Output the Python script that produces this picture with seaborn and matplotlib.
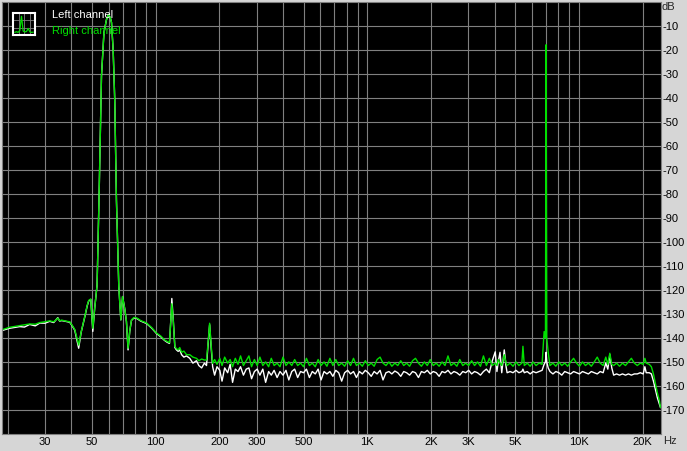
import numpy as np
import pandas as pd
import seaborn as sns
import matplotlib.pyplot as plt
from matplotlib.ticker import FixedLocator, FixedFormatter, NullLocator

# --- data (Hz, dB) ---
freq_hz = [
    18.7, 20.4, 22.8, 24.0, 25.4, 27.0, 28.4, 30.0, 31.6, 33.0, 34.5, 35.2, 36.0, 37.5, 39.3,
    40.5, 41.5, 43.3, 44.5, 46.3, 47.5, 48.3, 49.4, 50.5, 51.5, 52.9, 54.1, 55.5, 57.0, 58.6,
    60.0, 61.2, 61.9, 63.0, 64.1, 65.3, 67.0, 68.5, 69.8, 71.5, 72.8, 74.1, 75.5, 76.9, 79.0,
    81.8, 85.0, 90.6, 96.0, 101, 106, 110, 113.3, 116.3, 118.0, 119.3, 121.0, 123.3, 125.5, 127.8,
    130, 132.7, 136, 140, 145, 150, 156, 160, 165, 170, 174, 177, 180, 183, 186,
    190, 195, 201, 206, 212, 219, 225, 231, 238, 245, 252, 260, 268, 276, 284,
    293, 302, 311, 321, 331, 342, 352, 363, 375, 387, 400, 413, 426, 440, 454,
    469, 484, 500, 516, 533, 550, 568, 586, 605, 625, 645, 666, 688, 710, 733,
    757, 782, 808, 834, 861, 889, 918, 948, 979, 1011, 1044, 1078, 1113, 1150, 1187,
    1226, 1266, 1307, 1350, 1394, 1440, 1487, 1535, 1585, 1637, 1690, 1746, 1803, 1862, 1922,
    1985, 2050, 2117, 2186, 2257, 2331, 2407, 2486, 2567, 2651, 2737, 2827, 2919, 3014, 3113,
    3214, 3319, 3428, 3540, 3655, 3775, 3898, 4025, 4100, 4156, 4240, 4320, 4440, 4530, 4580,
    4730, 4884, 5043, 5207, 5377, 5440, 5520, 5700, 5885, 6077, 6275, 6480, 6700, 6850, 6950,
    7000, 7050, 7160, 7300, 7540, 7780, 8040, 8300, 8570, 8850, 9140, 9440, 9750, 10070, 10400,
    10740, 11090, 11450, 11820, 12210, 12610, 13020, 13400, 13700, 14000, 14300, 14600, 15070, 15560, 16070,
    16600, 17140, 17700, 18280, 18880, 19500, 20130, 20500, 20800, 21500, 22000, 22500, 23000, 23500, 24000,
    24300,
]

right_db = [
    -136.7, -135.6, -134.9, -134.6, -134.2, -134.3, -133.6, -133.3, -132.9, -133.3, -131.8, -132.9, -132.6, -133.0, -133.3,
    -135.0, -136.5, -143.0, -137.5, -131.0, -126.5, -124.4, -123.8, -136.0, -128.0, -118.0, -79.6, -31.0, -13.0, -7.5,
    -5.4, -7.0, -8.8, -20.0, -40.8, -82.5, -118.7, -132.5, -122.8, -128.0, -133.0, -144.3, -137.0, -132.5, -131.5,
    -131.8, -132.8, -133.8, -135.8, -138.0, -139.3, -140.8, -141.5, -142.0, -133.0, -125.8, -132.0, -143.6, -144.5, -145.0,
    -144.0, -146.0, -145.5, -147.0, -147.0, -148.0, -148.5, -149.5, -148.8, -149.2, -149.2, -142.0, -133.9, -143.0, -150.6,
    -149.0, -151.0, -148.5, -151.5, -148.0, -150.5, -149.0, -152.0, -148.5, -151.0, -147.5, -151.5, -149.5, -147.5, -152.0,
    -149.0, -151.5, -148.0, -151.5, -150.0, -152.0, -148.5, -151.5, -150.5, -152.0, -148.0, -151.5, -150.0, -151.5, -149.0,
    -151.5, -150.5, -152.0, -148.5, -151.5, -150.5, -152.0, -149.0, -151.5, -150.0, -151.8, -148.5, -151.5, -149.0, -151.5,
    -150.5, -151.8, -149.5, -151.5, -148.5, -151.5, -150.5, -151.8, -149.5, -151.5, -150.5, -151.8, -149.0, -148.0, -150.5,
    -151.5, -150.0, -151.8, -150.5, -151.5, -149.5, -151.5, -150.5, -151.8, -149.5, -148.5, -150.5, -151.8, -150.0, -151.5,
    -149.0, -151.5, -150.5, -151.8, -150.0, -151.5, -147.5, -151.5, -150.5, -151.8, -149.0, -151.5, -150.5, -151.5, -149.5,
    -151.5, -150.0, -151.8, -147.5, -151.5, -148.5, -151.5, -150.5, -151.5, -149.0, -150.5, -151.5, -147.0, -150.5, -151.5,
    -150.5, -151.8, -150.0, -151.5, -150.5, -143.5, -151.5, -150.5, -151.8, -150.0, -151.5, -150.5, -151.0, -137.4, -140.0,
    -18.0, -140.0, -146.0, -151.5, -150.5, -151.8, -150.0, -151.5, -150.5, -151.8, -150.0, -148.5, -150.5, -151.8, -150.0,
    -151.5, -150.5, -151.8, -150.0, -148.0, -150.5, -151.5, -148.0, -151.0, -146.4, -151.0, -151.5, -150.5, -151.8, -150.5,
    -151.5, -150.0, -148.5, -150.5, -151.5, -150.5, -151.0, -148.5, -150.5, -151.0, -152.0, -155.0, -159.0, -163.0, -166.0,
    -169.0,
]

left_db = [
    -137.0, -136.0, -135.3, -135.5, -134.4, -135.0, -133.8, -133.9, -133.1, -133.6, -131.6, -133.0, -132.8, -133.1, -133.5,
    -135.2, -136.8, -144.3, -137.6, -131.2, -126.7, -124.6, -124.0, -137.3, -128.0, -118.0, -79.6, -31.0, -13.0, -7.5,
    -5.4, -7.0, -8.8, -20.0, -40.8, -82.5, -118.7, -132.5, -122.8, -128.0, -133.2, -145.0, -137.2, -132.7, -131.7,
    -132.0, -133.0, -134.0, -136.0, -138.2, -139.6, -141.0, -141.8, -142.3, -132.5, -123.6, -131.5, -144.0, -145.0, -145.6,
    -145.0, -147.0, -148.0, -147.5, -148.5, -150.5, -149.5, -151.5, -152.5, -150.5, -151.5, -142.5, -134.5, -144.0, -152.0,
    -155.5, -152.0, -153.5, -158.0, -152.5, -154.5, -151.0, -158.5, -153.0, -154.0, -152.0, -155.5, -153.0, -152.5, -157.0,
    -154.0, -153.0, -155.5, -153.0, -158.5, -154.0, -155.5, -153.5, -156.5, -154.0, -155.5, -153.5, -157.5, -154.0, -153.0,
    -156.5, -154.0, -154.5, -153.0, -156.5, -154.0, -155.0, -153.0, -157.5, -154.0, -155.0, -154.0, -156.0, -153.5, -154.5,
    -158.0, -154.5, -153.5, -155.0, -154.0, -156.5, -154.0, -155.0, -153.5, -154.5, -156.0, -154.0, -155.0, -153.5, -157.5,
    -154.5, -154.0, -155.0, -153.8, -154.5, -156.0, -154.0, -154.5, -155.5, -154.0, -154.5, -156.5, -154.0, -154.5, -153.5,
    -155.0, -154.0, -154.5, -156.0, -154.0, -154.5, -153.5, -155.0, -154.0, -154.5, -155.5, -154.0, -154.5, -153.5, -155.0,
    -154.0, -154.5, -155.5, -154.0, -153.0, -154.5, -149.5, -145.8, -154.0, -150.0, -146.0, -154.5, -145.0, -152.0, -154.5,
    -154.0, -154.5, -153.5, -154.5, -154.0, -153.0, -154.5, -154.0, -155.0, -154.0, -154.5, -154.0, -153.5, -151.0, -150.0,
    -146.0, -150.0, -152.5, -154.0, -155.0, -154.0, -154.5, -155.5, -154.0, -154.5, -155.0, -154.0, -154.5, -155.0, -154.0,
    -154.5, -155.0, -154.0, -154.5, -155.0, -154.0, -154.5, -150.5, -153.0, -147.0, -152.5, -155.5, -155.0, -155.5, -155.0,
    -155.5, -155.0, -155.5, -155.0, -155.0, -154.5, -155.0, -152.0, -154.5, -154.5, -155.0, -158.0, -161.5, -165.0, -167.5,
    -169.0,
]

channels = ["Left channel", "Right channel"]
x_label_freqs = [30, 50, 100, 200, 300, 500, 1000, 2000, 3000, 5000, 10000, 20000]
x_label_text = ["30", "50", "100", "200", "300", "500", "1K", "2K", "3K", "5K", "10K", "20K"]
db_ticks = list(range(-170, 0, 10))

# icon glyph levels (tiny spectrum in the legend badge)
icon_levels = [0.12, 0.15, 0.12, 0.2, 0.85, 0.18, 0.14, 0.16, 0.3, 0.14, 0.12, 0.13]

# --- style ---
bg = "#d6d6d6"
grid_c = "#808080"
green = "#00e000"

sns.set_style("dark", rc={"axes.facecolor": "black", "figure.facecolor": bg})
plt.rcParams["font.family"] = ["Liberation Sans", "DejaVu Sans"]

df = pd.DataFrame({
    "freq": freq_hz * 2,
    "db": left_db + right_db,
    "channel": [channels[0]] * len(left_db) + [channels[1]] * len(right_db),
})

W, H = 687, 451
fig = plt.figure(figsize=(W / 100, H / 100), dpi=100)
ax = fig.add_axes([1.5 / W, 1 - 434 / H, 659 / W, 432.5 / H])

sns.lineplot(data=df, x="freq", y="db", hue="channel", hue_order=channels,
             palette={channels[0]: "white", channels[1]: green},
             estimator=None, sort=False, legend=False, linewidth=1.0, ax=ax)

ax.set_xscale("log")
ax.set_xlim(18.7, 24300)
ax.set_ylim(-180, 0)

grid_freqs = [m * d for d in (10, 100, 1000) for m in range(2, 10)] + [1000 * 10, 10000 * 2]
grid_freqs = sorted(set(grid_freqs + [100, 1000]))
for f in grid_freqs:
    ax.axvline(f, color=grid_c, lw=0.8, zorder=0.5)
for d in db_ticks:
    ax.axhline(d, color=grid_c, lw=0.8, zorder=0.5)
ax.grid(False)

ax.xaxis.set_major_locator(FixedLocator(x_label_freqs))
ax.xaxis.set_major_formatter(FixedFormatter(x_label_text))
ax.xaxis.set_minor_locator(NullLocator())
ax.yaxis.tick_right()
ax.set_yticks(db_ticks)
ax.set_yticklabels([str(d) for d in db_ticks])
ax.tick_params(axis="both", length=0, labelsize=8, colors="black")
ax.tick_params(axis="x", pad=2)
ax.tick_params(axis="y", pad=1.5)
ax.set_xlabel("")
ax.set_ylabel("")
for s in ax.spines.values():
    s.set_color(grid_c)
    s.set_linewidth(0.8)

fig.text(662 / W, 1 - 7.3 / H, "dB", fontsize=8, va="center", ha="left")
fig.text(663 / W, 1 - 441 / H, "Hz", fontsize=8, va="center", ha="left")

# legend
fig.text(52 / W, 1 - 15 / H, channels[0], color="white", fontsize=8, va="center", ha="left")
fig.text(52 / W, 1 - 31.5 / H, channels[1], color=green, fontsize=8, va="center", ha="left")

icon = fig.add_axes([13 / W, 1 - 35 / H, 22 / W, 22 / H])
icon.set_facecolor("black")
for v in (0.25, 0.5, 0.75):
    icon.axvline(v, color=grid_c, lw=0.6)
for h in (0.33, 0.66):
    icon.axhline(h, color=grid_c, lw=0.6)
icon.plot(np.linspace(0.08, 0.92, len(icon_levels)), icon_levels, color=green, lw=0.9)
icon.set_xlim(0, 1)
icon.set_ylim(0, 1)
icon.set_xticks([])
icon.set_yticks([])
for s in icon.spines.values():
    s.set_color("white")
    s.set_linewidth(1.5)

fig.savefig("out.png", dpi=100, facecolor=bg)
